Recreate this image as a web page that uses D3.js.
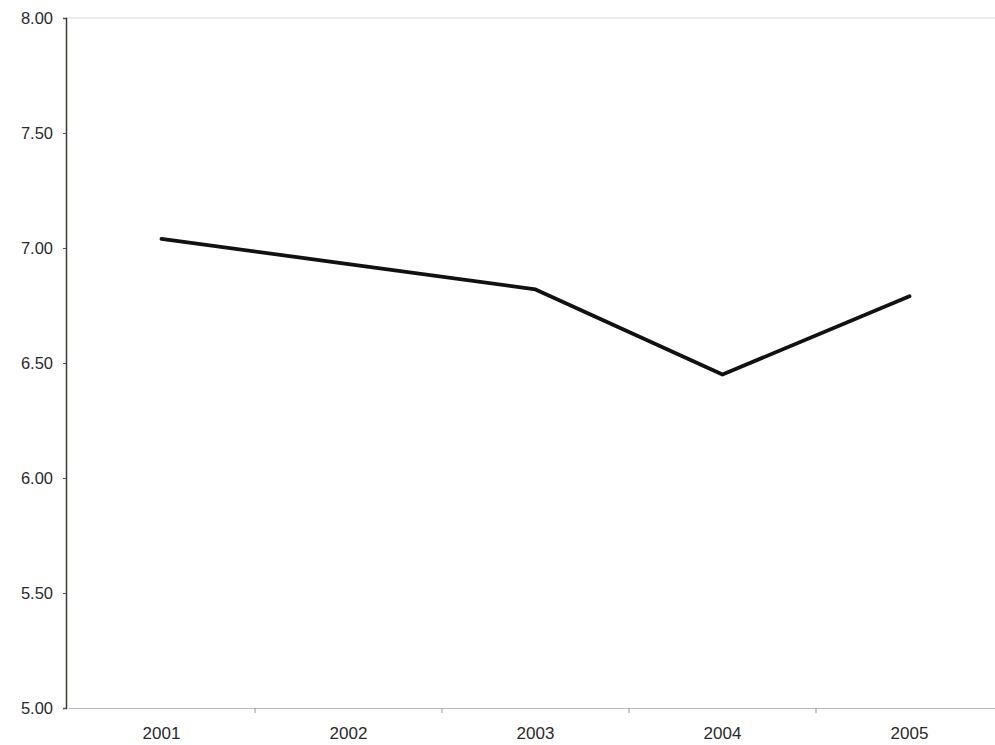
<!DOCTYPE html>
<html><head><meta charset="utf-8">
<script src="https://cdn.jsdelivr.net/npm/d3@7"></script>
<style>body{margin:0;background:#fff;}svg{display:block;}</style>
</head><body>
<svg id="c" width="995" height="745"></svg>
<script>
const years = ["2001","2002","2003","2004","2005"];
const values = [7.04, 6.93, 6.82, 6.45, 6.79];
const yTicks = [5.0, 5.5, 6.0, 6.5, 7.0, 7.5, 8.0];

(function(){
const svg = d3.select("#c");
const mL = 68, mR = 1003, mT = 18, mB = 708;
const x = d3.scaleBand().domain(years).range([mL, mR]).padding(0);
const y = d3.scaleLinear().domain([5, 8]).range([mB, mT]);

// top border
svg.append("line").attr("x1", 66).attr("x2", 995).attr("y1", mT).attr("y2", mT)
  .attr("stroke", "#d8d8d8").attr("stroke-width", 1);

// x axis
const xa = svg.append("g").attr("transform", `translate(0,${mB})`)
  .call(d3.axisBottom(x).tickSize(0).tickPadding(19));
xa.select(".domain").attr("stroke", "#bbb");
xa.selectAll("text").style("font-family", "'Liberation Sans', Arial, sans-serif").style("font-size", "17px").attr("fill", "#2a2a2a");
// category boundary ticks
svg.append("g").selectAll("line").data(years.slice(1)).join("line")
  .attr("x1", d => x(d)).attr("x2", d => x(d)).attr("y1", mB).attr("y2", mB + 5)
  .attr("stroke", "#999");

// y axis
const ya = svg.append("g").attr("transform", `translate(66,0)`)
  .call(d3.axisLeft(y).tickValues(yTicks).tickFormat(d3.format(".2f")).tickSize(3).tickPadding(10));
ya.select(".domain").attr("stroke", "#3a3a30").attr("stroke-width", 1.5);
ya.selectAll(".tick line").attr("stroke", "#555");
ya.selectAll("text").style("font-family", "'Liberation Sans', Arial, sans-serif").style("font-size", "16.5px").attr("fill", "#2a2a2a");

// line
const line = d3.line().x((d, i) => x(years[i]) + x.bandwidth() / 2).y(d => y(d));
svg.append("path").datum(values).attr("d", line)
  .attr("fill", "none").attr("stroke", "#111").attr("stroke-width", 3.8)
  .attr("stroke-linejoin", "round").attr("stroke-linecap", "round");
})();
</script>
</body></html>
